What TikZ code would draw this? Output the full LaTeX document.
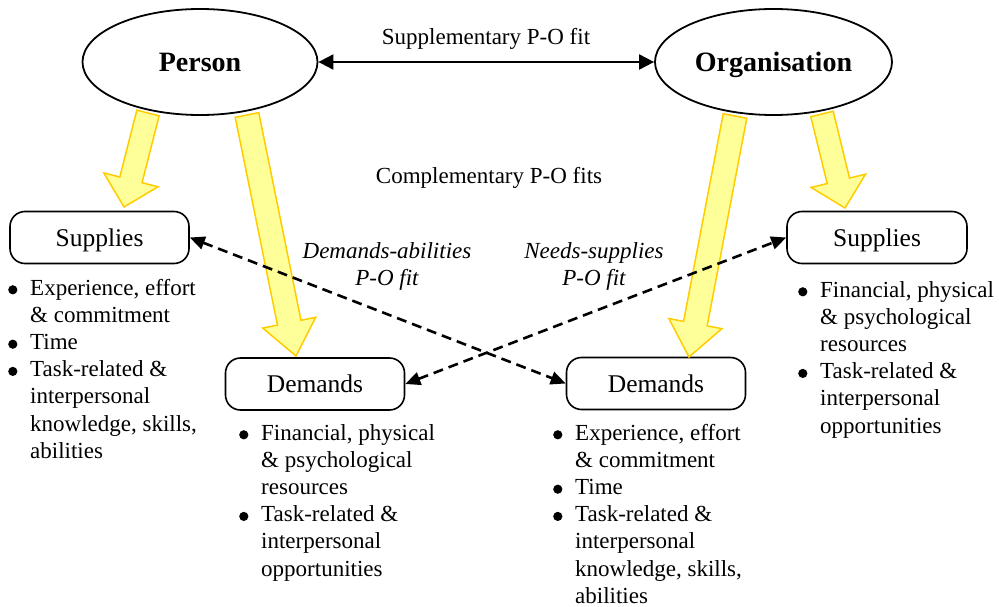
\documentclass[tikz,border=0pt]{standalone}
\usepackage{fontspec}
\setmainfont{Liberation Serif}
\usetikzlibrary{calc,arrows.meta,shapes.geometric}
\definecolor{yfill}{HTML}{FFFF99}
\definecolor{yline}{HTML}{FFCC00}
\newcommand{\pobul}{\makebox[22pt][l]{\tikz[baseline=0pt]\fill (4.6pt,5.2pt) circle[radius=4.6pt];}}
\newcommand{\poListExp}{\begin{tabular}[t]{@{}l@{}l@{}}
\pobul & Experience, effort\\
 & \& commitment\\
\pobul & Time\\
\pobul & Task-related \&\\
 & interpersonal\\
 & knowledge, skills,\\
 & abilities
\end{tabular}}
\newcommand{\poListFin}{\begin{tabular}[t]{@{}l@{}l@{}}
\pobul & Financial, physical\\
 & \& psychological\\
 & resources\\
\pobul & Task-related \&\\
 & interpersonal\\
 & opportunities
\end{tabular}}
\newcommand{\yblock}[5]{% start, tip, half shaft, half head, head length
  \coordinate (yH) at ($(#2)!#5!(#1)$);
  \draw[yarrow] ($(#1)!#3!90:(#2)$) -- ($(yH)!#3!90:(#2)$) -- ($(yH)!#4!90:(#2)$)
    -- (#2) -- ($(yH)!#4!-90:(#2)$) -- ($(yH)!#3!-90:(#2)$) -- ($(#1)!#3!-90:(#2)$) -- cycle;
}
\begin{document}
\begin{tikzpicture}[x=1pt,y=-1pt,
  ell/.style={draw, line width=1.8pt, ellipse, inner sep=0pt, minimum height=106pt, text height=19pt, text depth=0pt, font=\fontsize{28}{32}\selectfont\bfseries},
  pobox/.style={draw, line width=1.6pt, rounded corners=15pt, minimum width=179pt, minimum height=52pt, inner sep=0pt, text height=17pt, text depth=0pt, font=\fontsize{25.5}{30}\selectfont},
  listnode/.style={anchor=base west, inner sep=0pt, font=\fontsize{23}{27.2}\selectfont},
  lbl/.style={anchor=base, inner sep=0pt, font=\fontsize{23}{27.2}\selectfont},
  yarrow/.style={fill=yfill, draw=yline, line width=1.5pt, line join=miter},
  dasharrow/.style={line width=2.6pt, dash pattern=on 10pt off 6pt, {Triangle[length=15pt,width=13pt]}-{Triangle[length=15pt,width=13pt]}},
  solidarrow/.style={line width=2pt, {Triangle[length=15pt,width=15pt]}-{Triangle[length=15pt,width=15pt]}}
]
\useasboundingbox (0,0) rectangle (999,607);

% ellipses
\node[ell, minimum width=235pt] (person) at (200,62) {Person};
\node[ell, minimum width=237pt] (org) at (773.5,62) {Organisation};

% supplementary fit
\draw[solidarrow] (person) -- (org);
\node[lbl] (supl) at (486,45) {Supplementary P-O fit};
\node[lbl] (compl) at (489,183) {Complementary P-O fits};

% boxes
\node[pobox] (supL) at (99.5,237.5) {Supplies};
\node[pobox] (demL) at (315,384) {Demands};
\node[pobox] (demR) at (656,383.5) {Demands};
\node[pobox, minimum width=180pt] (supR) at (877,237.5) {Supplies};

% lists
\node[listnode] (listSL) at (8,295) {\poListExp};
\node[listnode] (listDL) at (239,440) {\poListFin};
\node[listnode] (listDR) at (553,440) {\poListExp};
\node[listnode] (listSR) at (798,297) {\poListFin};

% yellow block arrows
\yblock{148,113}{124,207}{11.5pt}{28pt}{28pt}
\yblock{247,115}{296,356}{12pt}{27pt}{34pt}
\yblock{735,116}{689,357}{12pt}{27pt}{34pt}
\yblock{822,114}{845,208}{11.5pt}{28pt}{28pt}

% complementary fits
\draw[dasharrow] (supL.east) -- (demR.west);
\draw[dasharrow] (demL.east) -- (supR.west);
\node[lbl, font=\fontsize{23}{27.2}\selectfont\itshape] (dalbl) at (387,258)
  {\begin{tabular}[t]{@{}c@{}}Demands-abilities\\P-O fit\end{tabular}};
\node[lbl, font=\fontsize{23}{27.2}\selectfont\itshape] (nslbl) at (594,258)
  {\begin{tabular}[t]{@{}c@{}}Needs-supplies\\P-O fit\end{tabular}};
\end{tikzpicture}
\end{document}
